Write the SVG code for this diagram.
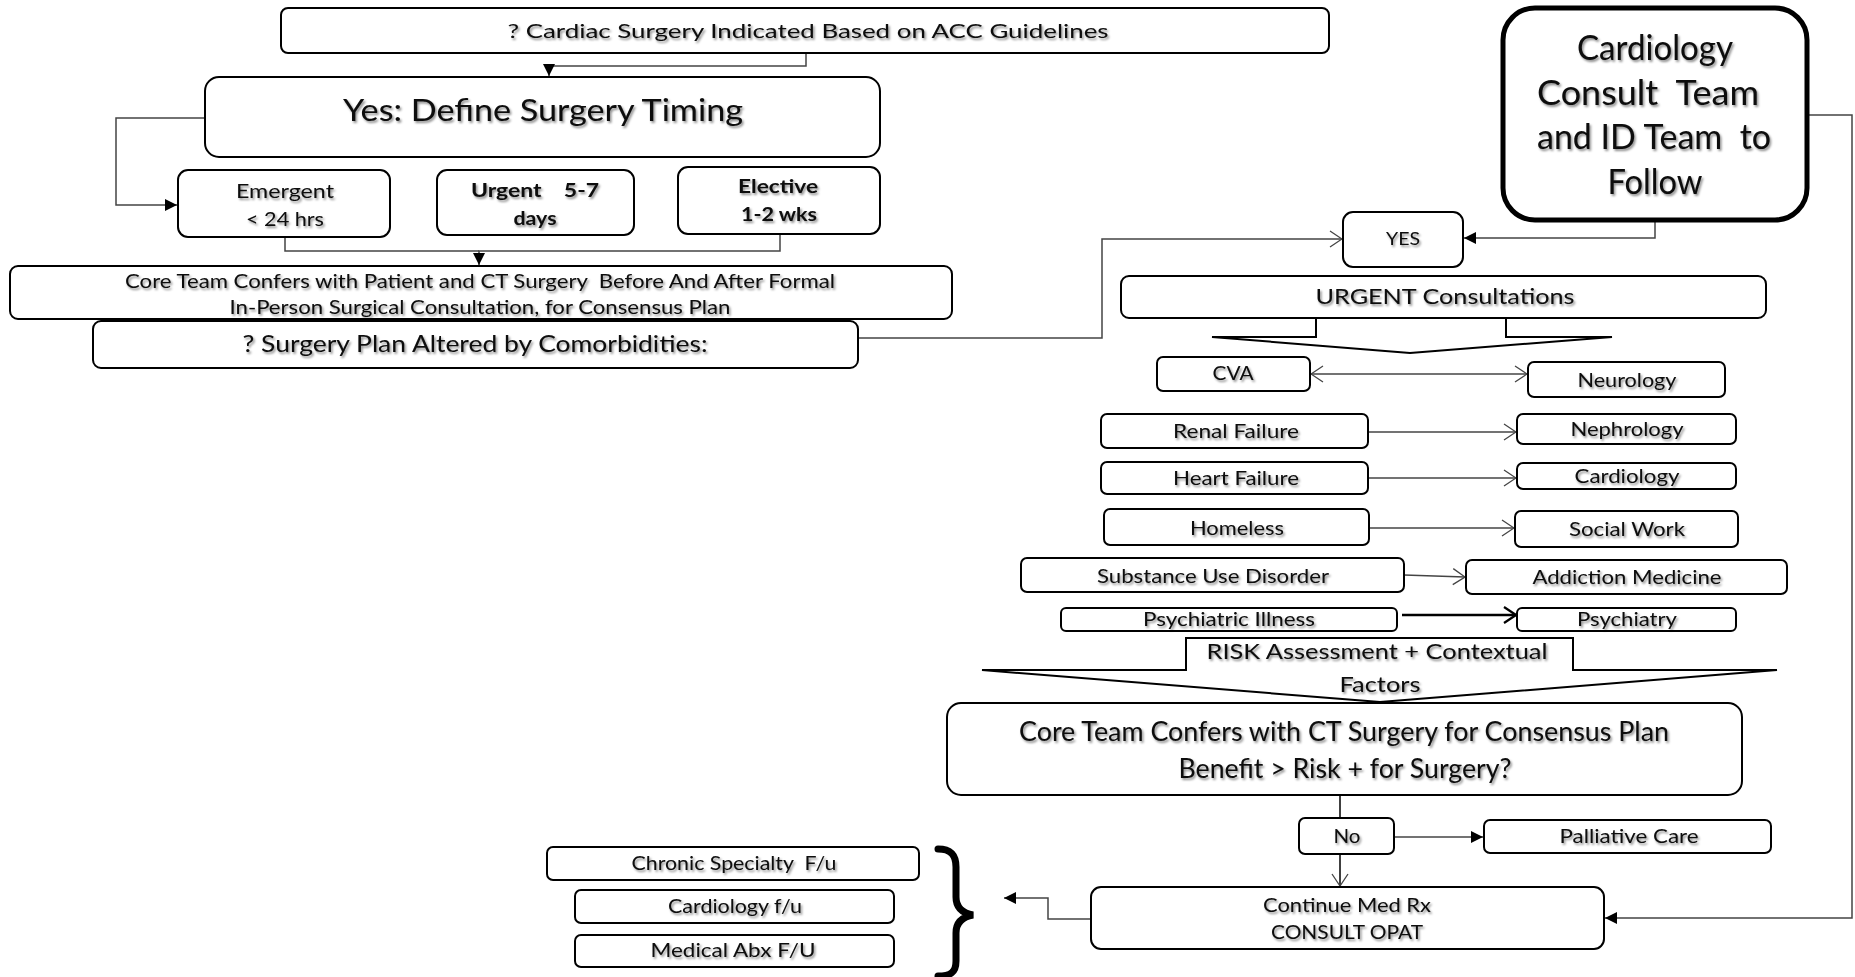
<svg xmlns="http://www.w3.org/2000/svg" width="1855" height="977" viewBox="0 0 1855 977">
<defs>
<style>
.box{fill:#fff;stroke:#000;stroke-width:2}
.thick{fill:#fff;stroke:#000;stroke-width:5}
.t{font-family:Lato,"Liberation Sans",sans-serif;fill:#0a0a0a;text-anchor:middle;dominant-baseline:central;filter:url(#sh);transform:translateY(-2px)}
.bd{font-weight:bold}
.conn{fill:none;stroke:#444;stroke-width:1.5}
.blk{fill:#fff;stroke:#000;stroke-width:2;stroke-linejoin:miter}
</style>
<filter id="sh" x="-5%" y="-30%" width="115%" height="170%">
<feDropShadow dx="1.5" dy="2" stdDeviation="1.2" flood-color="#000" flood-opacity="0.45"/>
</filter>
<marker id="fa" viewBox="0 0 12 12" refX="12" refY="6" markerWidth="13" markerHeight="12" markerUnits="userSpaceOnUse" orient="auto-start-reverse">
<path d="M0,0 L12,6 L0,12 z" fill="#000"/>
</marker>
<marker id="oa" viewBox="0 0 14 18" refX="13" refY="9" markerWidth="14" markerHeight="18" markerUnits="userSpaceOnUse" orient="auto-start-reverse">
<path d="M1,1 L13,9 L1,17" fill="none" stroke="#444" stroke-width="1.3"/>
</marker>
<marker id="ob" viewBox="0 0 14 18" refX="13" refY="9" markerWidth="14" markerHeight="18" markerUnits="userSpaceOnUse" orient="auto-start-reverse">
<path d="M1,1 L13,9 L1,17" fill="none" stroke="#000" stroke-width="2.2"/>
</marker>
</defs>
<rect width="1855" height="977" fill="#fff"/>

<g id="connectors">
<path class="conn" d="M806,53 V66 H549 V76" marker-end="url(#fa)"/>
<path class="conn" d="M205,118 H116 V205 H177" marker-end="url(#fa)"/>
<path class="conn" d="M285,237 V251 H479"/>
<path class="conn" d="M780,234 V251 H479 V265" marker-end="url(#fa)"/>
<path class="conn" d="M858,338 H1102 V239 H1342" marker-end="url(#oa)"/>
<path class="conn" d="M1655,220 V238 H1464" marker-end="url(#fa)"/>
<path class="conn" d="M1807,115 H1852 V918 H1605" marker-end="url(#fa)"/>
<path class="conn" d="M1311,374 H1527" marker-start="url(#oa)" marker-end="url(#oa)"/>
<path class="conn" d="M1368,432 H1516" marker-end="url(#oa)"/>
<path class="conn" d="M1368,478 H1516" marker-end="url(#oa)"/>
<path class="conn" d="M1369,528 H1514" marker-end="url(#oa)"/>
<path class="conn" d="M1404,575 L1465,577" marker-end="url(#oa)"/>
<path class="conn" style="stroke:#000;stroke-width:2.5" d="M1402,615 H1516" marker-end="url(#ob)"/>
<path class="conn" style="stroke:#000" d="M1340,795 V818"/>
<path class="conn" d="M1394,837 H1483" marker-end="url(#fa)"/>
<path class="conn" style="stroke:#000" d="M1340,854 V886" marker-end="url(#oa)"/>
<path class="conn" d="M1091,919 H1048 V898 H1004" marker-end="url(#fa)"/>
</g>

<g id="n-top"><rect class="box" x="281" y="8" width="1048" height="45" rx="7"/>
<text class="t" x="808" y="32" font-size="20" textLength="601" lengthAdjust="spacingAndGlyphs">? Cardiac Surgery Indicated Based on ACC Guidelines</text></g>

<g id="n-yes-timing"><rect class="box" x="205" y="77" width="675" height="80" rx="14"/>
<text class="t" x="543" y="111" font-size="31" textLength="400" lengthAdjust="spacingAndGlyphs">Yes: Define Surgery Timing</text></g>

<g id="n-emergent"><rect class="box" x="178" y="170" width="212" height="67" rx="10"/>
<text class="t" x="285" y="192" font-size="19" textLength="98" lengthAdjust="spacingAndGlyphs">Emergent</text>
<text class="t" x="285" y="220" font-size="19" textLength="78" lengthAdjust="spacingAndGlyphs">&lt; 24 hrs</text></g>

<g id="n-urgent"><rect class="box" x="437" y="170" width="197" height="65" rx="10"/>
<text class="t bd" x="535" y="191" font-size="19" textLength="128" lengthAdjust="spacingAndGlyphs" xml:space="preserve">Urgent    5-7</text>
<text class="t bd" x="535" y="219" font-size="19" textLength="43" lengthAdjust="spacingAndGlyphs">days</text></g>

<g id="n-elective"><rect class="box" x="678" y="167" width="202" height="67" rx="10"/>
<text class="t bd" x="778" y="187" font-size="19" textLength="80" lengthAdjust="spacingAndGlyphs">Elective</text>
<text class="t bd" x="779" y="215" font-size="19" textLength="76" lengthAdjust="spacingAndGlyphs">1-2 wks</text></g>

<g id="n-core-left"><rect class="box" x="10" y="266" width="942" height="53" rx="8"/>
<text class="t" x="480" y="282" font-size="19" textLength="710" lengthAdjust="spacingAndGlyphs" xml:space="preserve">Core Team Confers with Patient and CT Surgery  Before And After Formal</text>
<text class="t" x="480" y="308" font-size="19" textLength="501" lengthAdjust="spacingAndGlyphs">In-Person Surgical Consultation, for Consensus Plan</text></g>

<g id="n-surgery-plan"><rect class="box" x="93" y="321" width="765" height="47" rx="8"/>
<text class="t" x="475" y="345" font-size="23" textLength="465" lengthAdjust="spacingAndGlyphs">? Surgery Plan Altered by Comorbidities:</text></g>

<g id="n-cardio-team"><rect class="thick" x="1503" y="8" width="304" height="212" rx="32"/>
<text class="t" x="1655" y="48" font-size="34" textLength="156" lengthAdjust="spacingAndGlyphs">Cardiology</text>
<text class="t" x="1648" y="93" font-size="34" textLength="222" lengthAdjust="spacingAndGlyphs" xml:space="preserve">Consult  Team</text>
<text class="t" x="1654" y="137" font-size="34" textLength="234" lengthAdjust="spacingAndGlyphs" xml:space="preserve">and ID Team  to</text>
<text class="t" x="1655" y="182" font-size="34" textLength="95" lengthAdjust="spacingAndGlyphs">Follow</text></g>

<g id="n-yes"><rect class="box" x="1343" y="212" width="120" height="55" rx="10"/>
<text class="t" x="1403" y="240" font-size="17" textLength="34" lengthAdjust="spacingAndGlyphs">YES</text></g>

<g id="n-urgent-consult"><rect class="box" x="1121" y="276" width="645" height="42" rx="8"/>
<text class="t" x="1445" y="297" font-size="22" textLength="259" lengthAdjust="spacingAndGlyphs">URGENT Consultations</text></g>

<g id="arrow-urgent"><path class="blk" d="M1316,319 V337 H1212 L1410,353 L1612,337 H1506 V319"/></g>

<g id="n-cva"><rect class="box" x="1157" y="357" width="153" height="34" rx="6"/>
<text class="t" x="1233" y="374" font-size="19" textLength="41" lengthAdjust="spacingAndGlyphs">CVA</text></g>
<g id="n-neurology"><rect class="box" x="1528" y="362" width="197" height="35" rx="6"/>
<text class="t" x="1627" y="381" font-size="19" textLength="99" lengthAdjust="spacingAndGlyphs">Neurology</text></g>

<g id="n-renal"><rect class="box" x="1101" y="414" width="267" height="34" rx="6"/>
<text class="t" x="1236" y="432" font-size="19" textLength="126" lengthAdjust="spacingAndGlyphs">Renal Failure</text></g>
<g id="n-nephrology"><rect class="box" x="1517" y="414" width="219" height="30" rx="6"/>
<text class="t" x="1627" y="430" font-size="19" textLength="113" lengthAdjust="spacingAndGlyphs">Nephrology</text></g>

<g id="n-heart"><rect class="box" x="1101" y="462" width="267" height="32" rx="6"/>
<text class="t" x="1236" y="479" font-size="19" textLength="126" lengthAdjust="spacingAndGlyphs">Heart Failure</text></g>
<g id="n-cardiology"><rect class="box" x="1517" y="463" width="219" height="26" rx="6"/>
<text class="t" x="1627" y="477" font-size="19" textLength="105" lengthAdjust="spacingAndGlyphs">Cardiology</text></g>

<g id="n-homeless"><rect class="box" x="1104" y="509" width="265" height="36" rx="6"/>
<text class="t" x="1237" y="529" font-size="19" textLength="94" lengthAdjust="spacingAndGlyphs">Homeless</text></g>
<g id="n-social"><rect class="box" x="1515" y="511" width="223" height="36" rx="6"/>
<text class="t" x="1627" y="530" font-size="19" textLength="116" lengthAdjust="spacingAndGlyphs">Social Work</text></g>

<g id="n-substance"><rect class="box" x="1021" y="558" width="383" height="34" rx="6"/>
<text class="t" x="1213" y="577" font-size="19" textLength="232" lengthAdjust="spacingAndGlyphs">Substance Use Disorder</text></g>
<g id="n-addiction"><rect class="box" x="1466" y="560" width="321" height="34" rx="6"/>
<text class="t" x="1627" y="578" font-size="19" textLength="189" lengthAdjust="spacingAndGlyphs">Addiction Medicine</text></g>

<g id="n-psych-illness"><rect class="box" x="1061" y="608" width="336" height="23" rx="5"/>
<text class="t" x="1229" y="620" font-size="19" textLength="172" lengthAdjust="spacingAndGlyphs">Psychiatric Illness</text></g>
<g id="n-psychiatry"><rect class="box" x="1517" y="608" width="219" height="23" rx="5"/>
<text class="t" x="1627" y="620" font-size="19" textLength="100" lengthAdjust="spacingAndGlyphs">Psychiatry</text></g>

<g id="arrow-risk"><path class="blk" d="M1186,670 V638 H1573 V670 H1777 L1380,702 L982,670 Z"/>
<text class="t" x="1377" y="652" font-size="22" textLength="341" lengthAdjust="spacingAndGlyphs">RISK Assessment + Contextual</text>
<text class="t" x="1380" y="685" font-size="22" textLength="81" lengthAdjust="spacingAndGlyphs">Factors</text></g>

<g id="n-core-ct"><rect class="box" x="947" y="703" width="795" height="92" rx="14"/>
<text class="t" x="1344" y="733" font-size="26" textLength="650" lengthAdjust="spacingAndGlyphs">Core Team Confers with CT Surgery for Consensus Plan</text>
<text class="t" x="1345" y="770" font-size="26" textLength="333" lengthAdjust="spacingAndGlyphs">Benefit &gt; Risk + for Surgery?</text></g>

<g id="n-no"><rect class="box" x="1299" y="818" width="95" height="36" rx="6"/>
<text class="t" x="1347" y="837" font-size="19" textLength="27" lengthAdjust="spacingAndGlyphs">No</text></g>

<g id="n-palliative"><rect class="box" x="1484" y="820" width="287" height="33" rx="6"/>
<text class="t" x="1629" y="837" font-size="19" textLength="139" lengthAdjust="spacingAndGlyphs">Palliative Care</text></g>

<g id="n-continue"><rect class="box" x="1091" y="887" width="513" height="62" rx="10"/>
<text class="t" x="1347" y="906" font-size="20" textLength="168" lengthAdjust="spacingAndGlyphs">Continue Med Rx</text>
<text class="t" x="1347" y="933" font-size="20" textLength="152" lengthAdjust="spacingAndGlyphs">CONSULT OPAT</text></g>

<g id="n-chronic"><rect class="box" x="547" y="847" width="372" height="33" rx="6"/>
<text class="t" x="734" y="864" font-size="20" textLength="205" lengthAdjust="spacingAndGlyphs" xml:space="preserve">Chronic Specialty  F/u</text></g>
<g id="n-cardio-fu"><rect class="box" x="575" y="890" width="319" height="33" rx="6"/>
<text class="t" x="735" y="907" font-size="20" textLength="134" lengthAdjust="spacingAndGlyphs">Cardiology f/u</text></g>
<g id="n-abx"><rect class="box" x="575" y="935" width="319" height="32" rx="6"/>
<text class="t" x="733" y="951" font-size="20" textLength="165" lengthAdjust="spacingAndGlyphs">Medical Abx F/U</text></g>

<g id="brace"><path d="M938,849 C951,849 956,855 956,867 L956,897 C956,907 962,913 973,915 C962,917 956,923 956,933 L956,961 C956,972 951,976 938,976" fill="none" stroke="#000" stroke-width="7" stroke-linecap="round"/></g>
</svg>
